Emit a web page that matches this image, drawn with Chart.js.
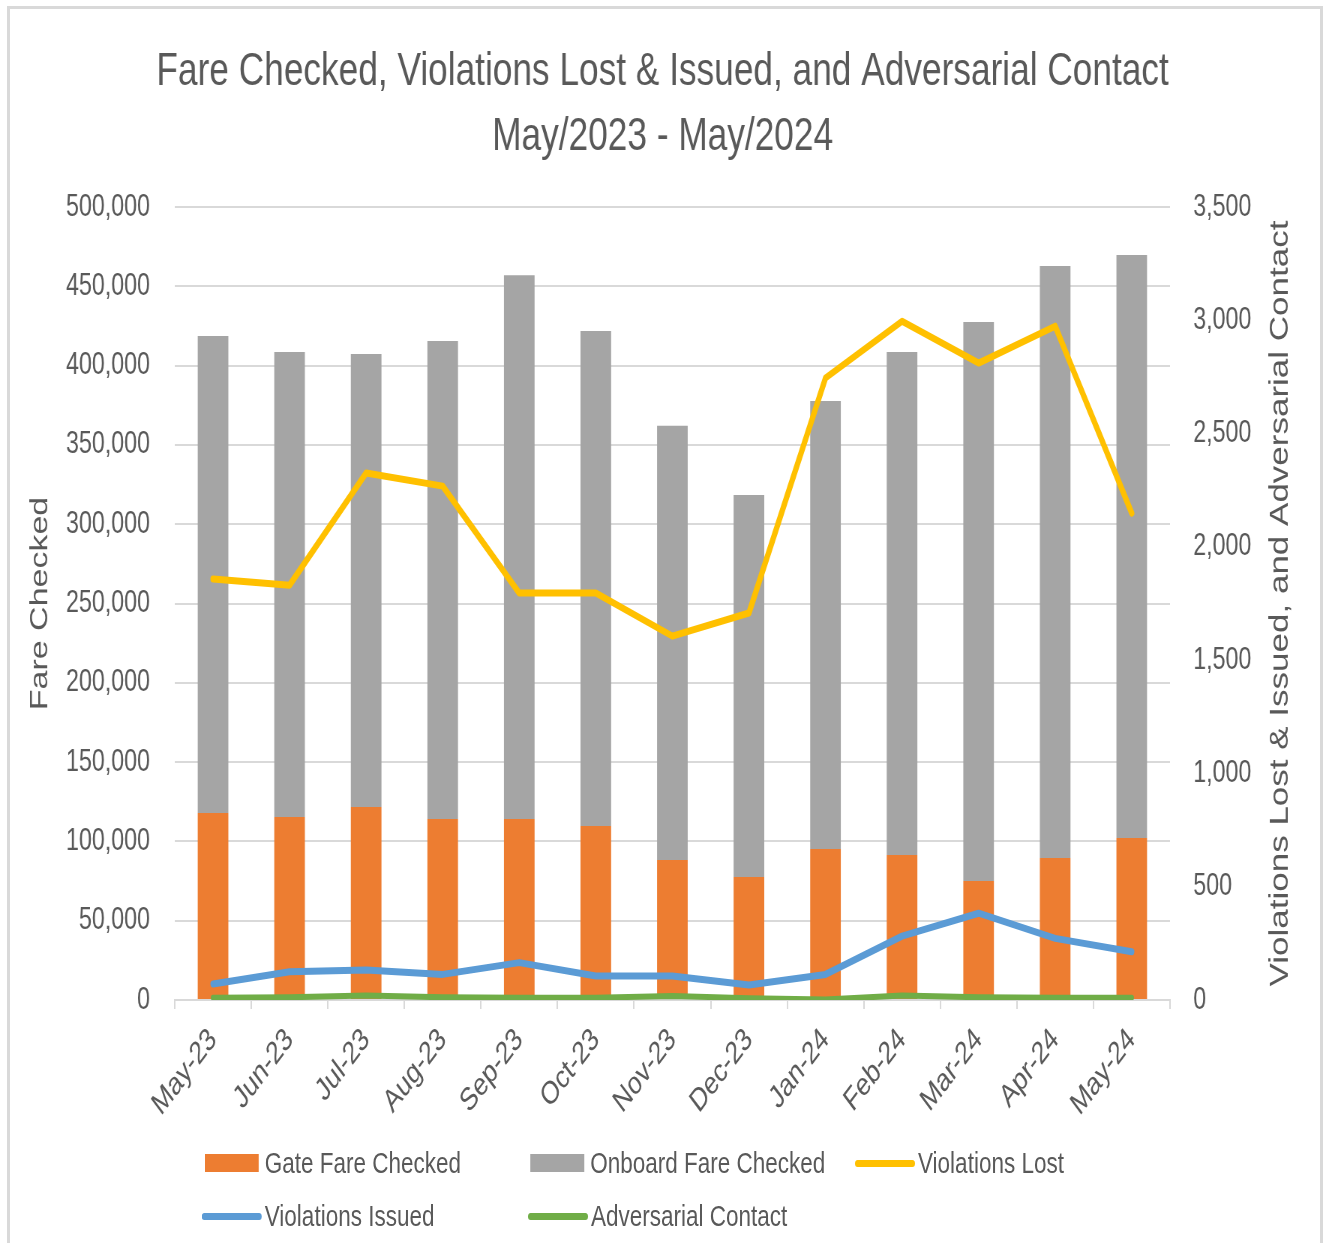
<!DOCTYPE html>
<html>
<head>
<meta charset="utf-8">
<script src="https://cdn.jsdelivr.net/npm/chart.js@4"></script>
<style>
    html, body { margin: 0; padding: 0; background: #fff; }
    #wrap { position: relative; width: 1325px; height: 1243px; overflow: hidden; }
    #frame {
        position: absolute; left: 7px; top: 6px; width: 1310px; height: 1260px;
        border: 3px solid #d9d9d9;
    }
    /* the original picture is squeezed sideways, so the whole drawing is made wide and squeezed the same way */
    #squeeze {
        position: absolute; left: 0; top: 0; width: 1767px; height: 1243px;
        transform: scaleX(0.75); transform-origin: 0 0;
    }
    .legend-item {
        position: absolute; display: flex; align-items: center; height: 40px;
        font-family: 'Liberation Sans', Arial, sans-serif;
        font-size: 30px; color: #595959; white-space: nowrap;
    }
    .swatch-box { width: 72px; height: 18px; margin-right: 8px; }
    .swatch-line { width: 80px; height: 7px; border-radius: 4px; margin-right: 4px; }
</style>
</head>
<body>
<div id="wrap">
    <div id="frame"></div>
    <div id="squeeze">
        <canvas id="fare-chart" width="1767" height="1243"></canvas>
        <div id="legend"></div>
    </div>
</div>
<script>
// Chart data
const months = ['May-23', 'Jun-23', 'Jul-23', 'Aug-23', 'Sep-23', 'Oct-23', 'Nov-23',
    'Dec-23', 'Jan-24', 'Feb-24', 'Mar-24', 'Apr-24', 'May-24'];
const gateFareChecked = [117900, 115400, 121700, 114100, 114100, 109700, 88300,
    77600, 95200, 91400, 75000, 89500, 102100];
const onboardFareChecked = [300800, 293200, 285600, 301400, 342900, 312100, 273700,
    240800, 282500, 317200, 352500, 373300, 367600];
const violationsLost = [1858, 1831, 2326, 2268, 1796, 1796, 1606, 1708, 2745, 2996, 2811, 2974, 2149];
const violationsIssued = [71, 125, 132, 113, 165, 106, 106, 66, 113, 282, 383, 272, 213];
const adversarialContact = [10, 12, 20, 12, 10, 10, 18, 8, 2, 20, 12, 10, 10];

const textColor = '#595959';
const gridColor = '#d9d9d9';
const font = "'Liberation Sans', Arial, sans-serif";
const rightTitle = 'Violations Lost & Issued, and Adversarial Contact';

// legend entries, positions are in the unsqueezed coordinates
const legendItems = [
    { label: 'Gate Fare Checked', color: '#ED7D31', kind: 'box', left: 273, top: 1143 },
    { label: 'Onboard Fare Checked', color: '#A5A5A5', kind: 'box', left: 707, top: 1143 },
    { label: 'Violations Lost', color: '#FFC000', kind: 'line', left: 1140, top: 1143 },
    { label: 'Violations Issued', color: '#5B9BD5', kind: 'line', left: 269, top: 1196 },
    { label: 'Adversarial Contact', color: '#70AD47', kind: 'line', left: 704, top: 1196 }
];

// Right axis title reads bottom to top, which Chart.js does not do on its own
const rightTitlePlugin = {
    id: 'rightTitle',
    afterDraw(chart) {
        const { ctx, chartArea } = chart;
        const scale = chart.scales.y1;
        ctx.save();
        ctx.translate(scale.right - 60, (chartArea.top + chartArea.bottom) / 2);
        ctx.rotate(-Math.PI / 2);
        ctx.font = '35px ' + font;
        ctx.fillStyle = textColor;
        ctx.textAlign = 'center';
        ctx.textBaseline = 'middle';
        ctx.fillText(rightTitle, 0, 0);
        ctx.restore();
    }
};

document.addEventListener('DOMContentLoaded', () => {
    buildChart();
    buildLegend();
});

function lineDataset(label, data, color, width) {
    return {
        type: 'line',
        label: label,
        data: data,
        yAxisID: 'y1',
        borderColor: color,
        backgroundColor: color,
        borderWidth: width,
        pointRadius: 0,
        tension: 0,
        borderJoinStyle: 'round',
        borderCapStyle: 'round',
        order: 0
    };
}

function barDataset(label, data, color) {
    return {
        label: label,
        data: data,
        backgroundColor: color,
        yAxisID: 'y',
        stack: 'fare',
        order: 1,
        categoryPercentage: 1,
        barPercentage: 0.4
    };
}

function buildChart() {
    const ctx = document.getElementById('fare-chart').getContext('2d');
    new Chart(ctx, {
        type: 'bar',
        data: {
            labels: months,
            datasets: [
                barDataset('Gate Fare Checked', gateFareChecked, '#ED7D31'),
                barDataset('Onboard Fare Checked', onboardFareChecked, '#A5A5A5'),
                lineDataset('Violations Lost', violationsLost, '#FFC000', 7),
                lineDataset('Violations Issued', violationsIssued, '#5B9BD5', 7),
                lineDataset('Adversarial Contact', adversarialContact, '#70AD47', 6)
            ]
        },
        plugins: [rightTitlePlugin],
        options: {
            responsive: false,
            animation: false,
            layout: { padding: { left: 0, right: 0, top: 40, bottom: 0 } },
            plugins: {
                legend: { display: false },
                tooltip: { enabled: false },
                title: {
                    display: true,
                    text: ['Fare Checked, Violations Lost & Issued, and Adversarial Contact', 'May/2023 - May/2024'],
                    color: textColor,
                    font: { family: font, size: 47, weight: 'normal', lineHeight: 1.383 },
                    padding: { top: 0, bottom: 37 }
                }
            },
            scales: {
                x: {
                    stacked: true,
                    grid: {
                        offset: true, drawOnChartArea: false, drawTicks: true,
                        tickLength: 9, color: gridColor, lineWidth: 2
                    },
                    border: { display: true, color: gridColor, width: 2 },
                    ticks: {
                        color: textColor, maxRotation: 45, minRotation: 45, padding: 12,
                        font: { family: font, size: 32 }
                    },
                    afterFit: (scale) => { scale.height = 243; }
                },
                y: {
                    stacked: true,
                    position: 'left',
                    min: 0, max: 500000,
                    grid: { color: gridColor, lineWidth: 2, drawTicks: false },
                    border: { display: false },
                    ticks: {
                        stepSize: 50000, color: textColor, padding: 33,
                        font: { family: font, size: 31 },
                        callback: (v) => v.toLocaleString('en-US')
                    },
                    title: {
                        display: true, text: 'Fare Checked', color: textColor,
                        font: { family: font, size: 34 },
                        padding: { top: 33, bottom: 0 }
                    },
                    afterFit: (scale) => { scale.width = 233; }
                },
                y1: {
                    position: 'right',
                    min: 0, max: 3500,
                    grid: { drawOnChartArea: false, drawTicks: false },
                    border: { display: false },
                    ticks: {
                        stepSize: 500, color: textColor, padding: 31,
                        font: { family: font, size: 31 },
                        callback: (v) => v.toLocaleString('en-US')
                    },
                    afterFit: (scale) => { scale.width = 207; }
                }
            }
        }
    });
}

// Legend laid out in two fixed rows like the original
function buildLegend() {
    const legend = document.getElementById('legend');
    legendItems.forEach(s => {
        const item = document.createElement('div');
        item.className = 'legend-item';
        item.style.left = s.left + 'px';
        item.style.top = s.top + 'px';
        const sw = document.createElement('span');
        sw.className = s.kind === 'box' ? 'swatch-box' : 'swatch-line';
        sw.style.background = s.color;
        const txt = document.createElement('span');
        txt.textContent = s.label;
        item.appendChild(sw);
        item.appendChild(txt);
        legend.appendChild(item);
    });
}
</script>
</body>
</html>
